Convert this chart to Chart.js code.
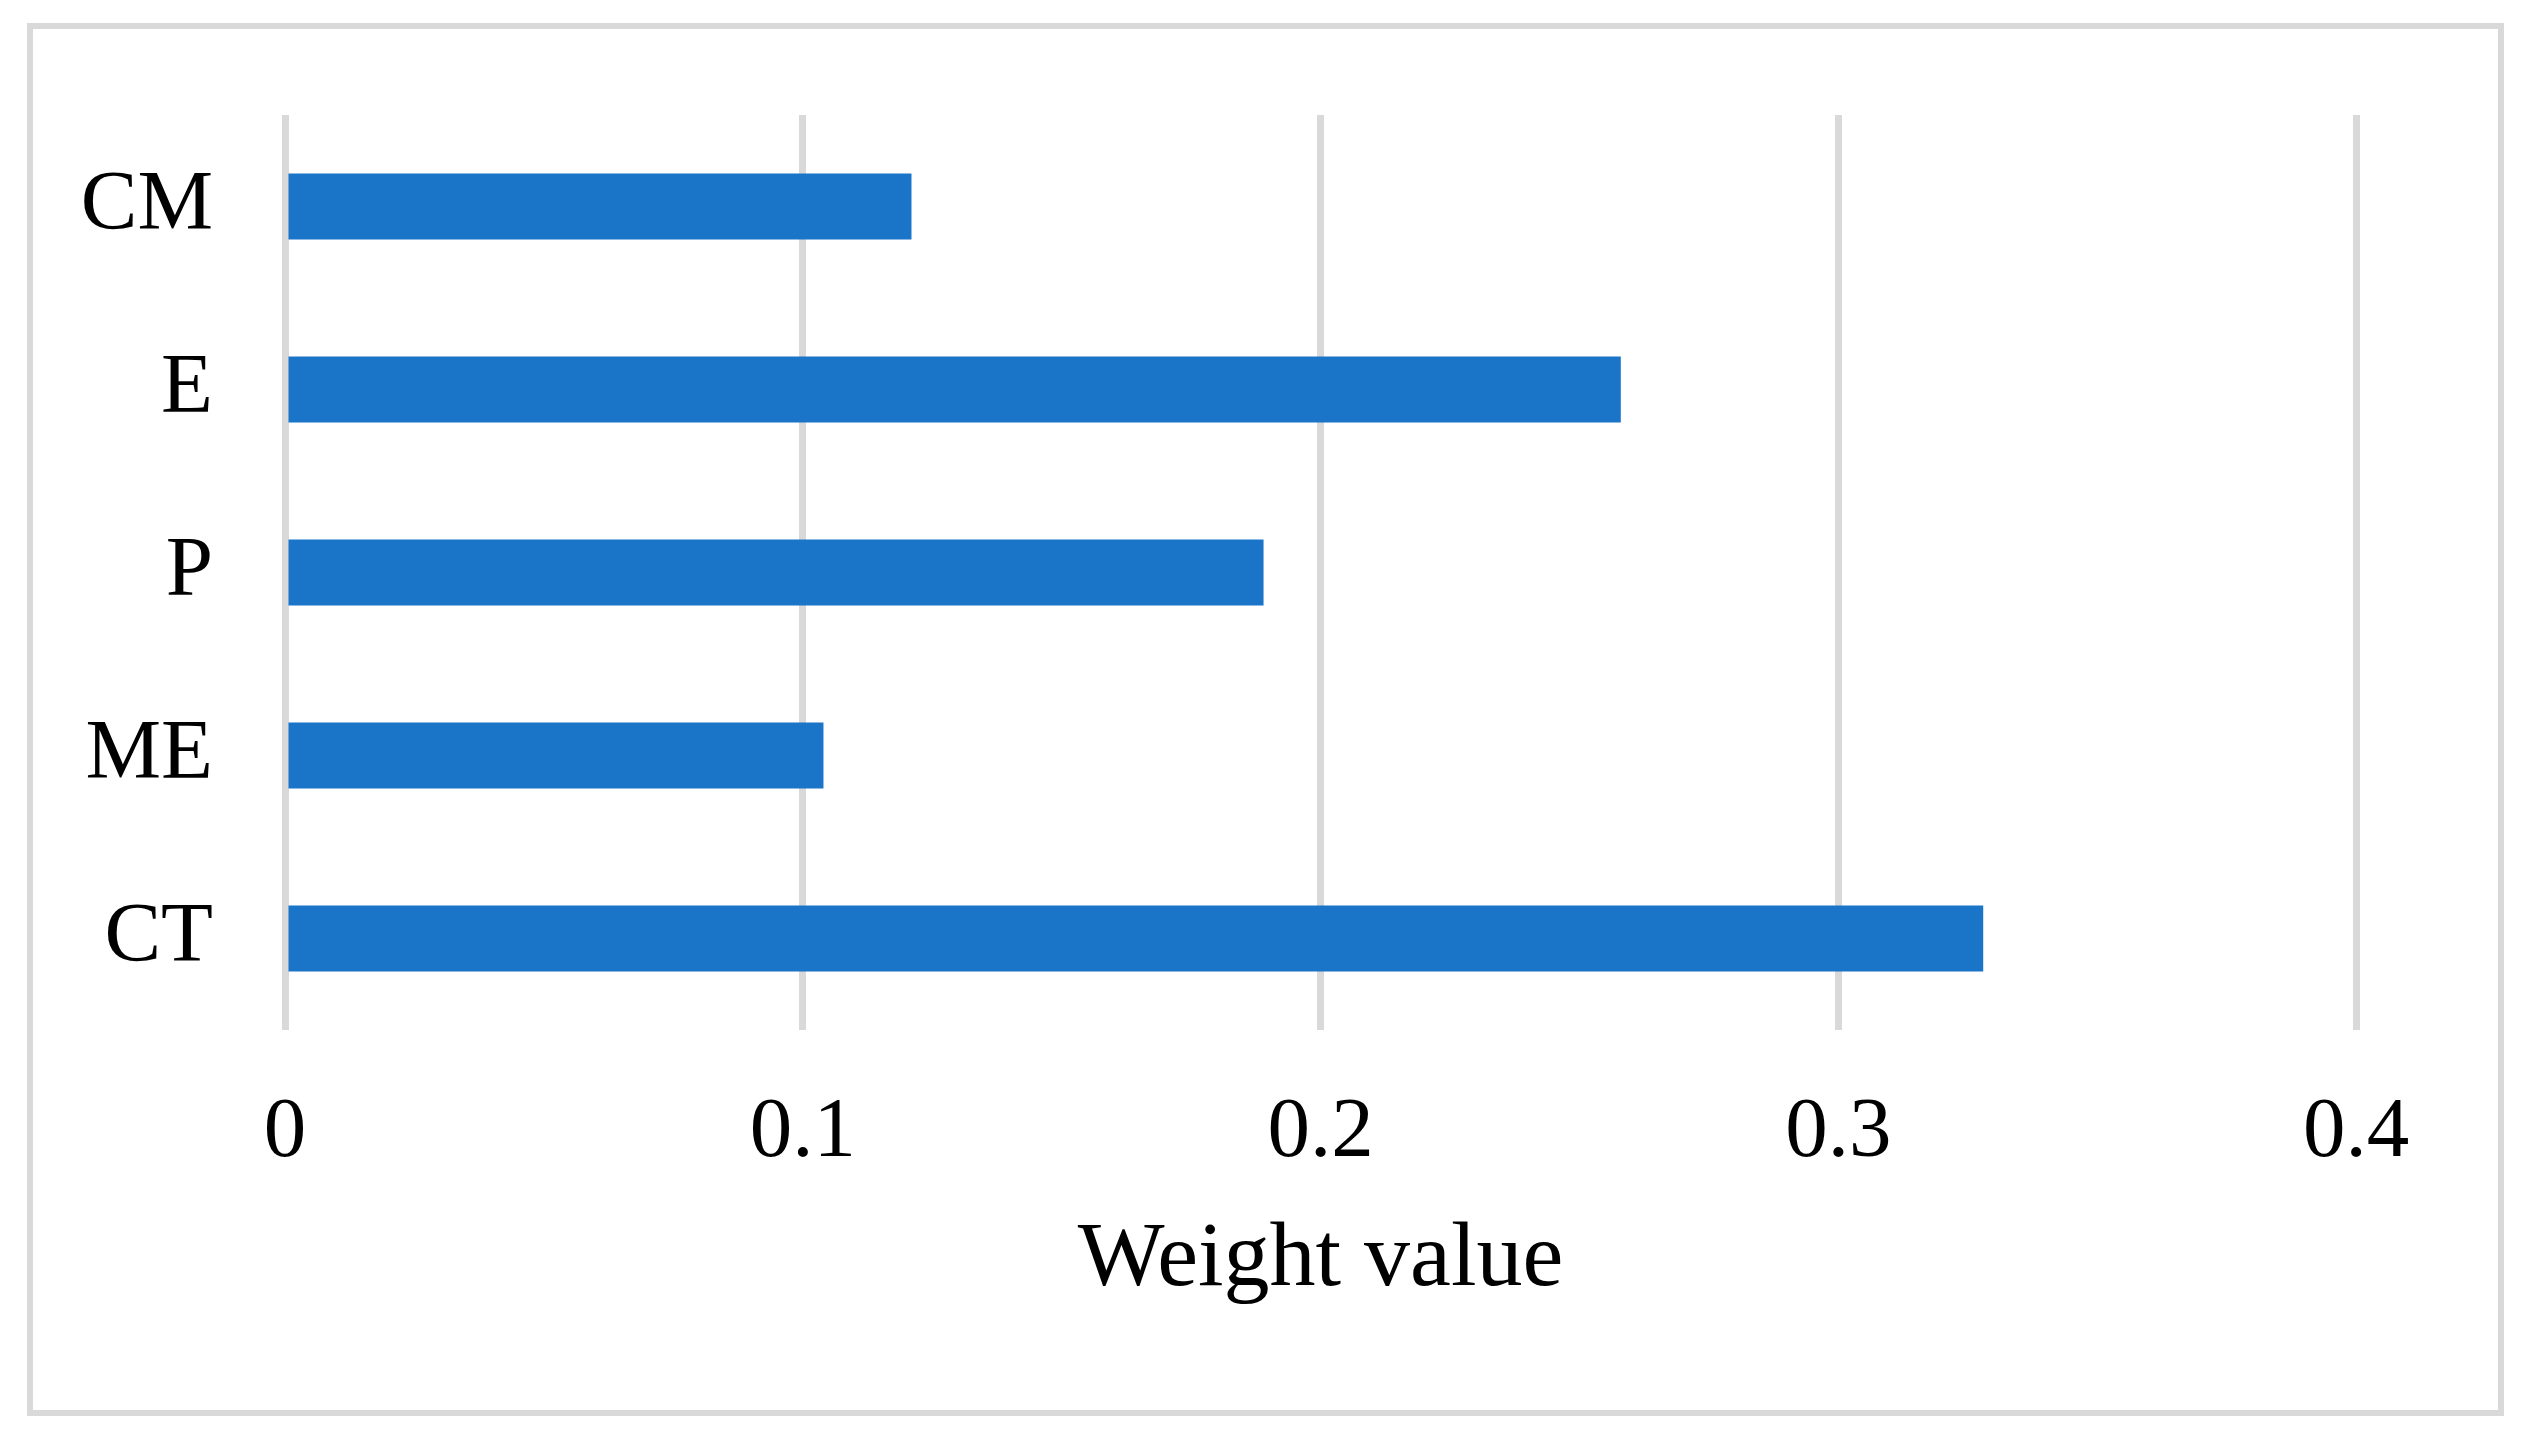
<!DOCTYPE html>
<html>
<head>
<meta charset="utf-8">
<script src="https://cdn.jsdelivr.net/npm/chart.js@4.4.0/dist/chart.umd.min.js"></script>
<style>
  html, body { margin: 0; padding: 0; background: #ffffff; }
  #wrap { position: relative; width: 2531px; height: 1437px; }
  #frame { position: absolute; left: 27px; top: 23px; width: 2477px; height: 1393px;
           border: 6px solid #d9d9d9; box-sizing: border-box; }
  canvas { position: absolute; left: 0; top: 0; }
</style>
</head>
<body>
<div id="wrap">
  <div id="frame"></div>
  <canvas id="c" width="2531" height="1437"></canvas>
</div>
<script>
const categories = ['CM', 'E', 'P', 'ME', 'CT'];
const weights = [0.121, 0.258, 0.189, 0.104, 0.328];
const xTicks = [0, 0.1, 0.2, 0.3, 0.4];
const axisTitle = 'Weight value';

const FONT = '"Liberation Serif", "Times New Roman", serif';

new Chart(document.getElementById('c'), {
  type: 'bar',
  data: {
    labels: categories,
    datasets: [{
      data: weights,
      backgroundColor: '#1A75C9',
      borderWidth: 0,
      categoryPercentage: 1,
      barPercentage: 0.36
    }]
  },
  options: {
    indexAxis: 'y',
    responsive: false,
    animation: false,
    events: [],
    layout: { padding: { top: 107, right: 175, bottom: 0, left: 0 } },
    plugins: { legend: { display: false }, tooltip: { enabled: false } },
    scales: {
      x: {
        min: 0, max: 0.4,
        afterBuildTicks: (s) => { s.ticks = xTicks.map(v => ({ value: v })); },
        afterFit: (s) => { s.height = 407; },
        grid: { color: '#d9d9d9', lineWidth: 7, drawTicks: false },
        border: { display: false },
        ticks: {
          padding: 53,
          color: '#000',
          font: { family: FONT, size: 85 },
          callback: (v) => String(v)
        },
        title: {
          display: true,
          text: axisTitle,
          color: '#000',
          font: { family: FONT, size: 92 },
          padding: { top: 0, bottom: 121 }
        }
      },
      y: {
        afterFit: (s) => { s.width = 285; },
        grid: { display: false },
        border: { display: false },
        ticks: {
          padding: 64,
          color: '#000',
          font: { family: FONT, size: 85 }
        }
      }
    }
  }
});
</script>
</body>
</html>
